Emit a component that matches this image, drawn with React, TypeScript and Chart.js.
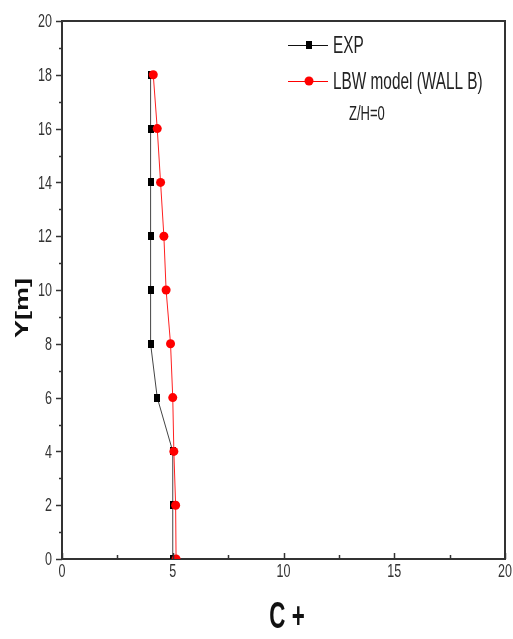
import React, { useEffect, useRef } from "react";
import { Chart, registerables } from "chart.js";

Chart.register(...registerables);

const yValues = [0, 2, 4, 6, 8, 10, 12, 14, 16, 18];
const expC = [5.0, 5.0, 5.0, 4.3, 4.0, 4.0, 4.0, 4.0, 4.0, 4.0];
const lbwC = [5.15, 5.13, 5.05, 5.0, 4.9, 4.7, 4.6, 4.45, 4.3, 4.12];
const xTickValues = [0, 5, 10, 15, 20];
const yTickValues = [0, 2, 4, 6, 8, 10, 12, 14, 16, 18, 20];
const seriesNames = ["EXP", "LBW model (WALL B)"];
const noteText = "Z/H=0";
const xTitle = "C +";
const yTitle = "Y[m]";

const FONT = "'Liberation Sans', Arial, sans-serif";
const AXIS = "#333333";
const SQ = 0.64;

function narrowText(ctx: any, text: string, x: number, y: number, sx: number, align: string) {
  ctx.save();
  ctx.translate(x, y);
  ctx.scale(sx, 1);
  ctx.textAlign = align;
  ctx.fillText(text, 0, 0);
  ctx.restore();
}

function makeSquare(): HTMLCanvasElement {
  const c = document.createElement("canvas");
  c.width = 6;
  c.height = 8;
  const g = c.getContext("2d")!;
  g.fillStyle = "#000000";
  g.fillRect(0, 0, 6, 8);
  return c;
}

const framePlugin = {
  id: "frame",
  afterDraw(chart: any) {
    const { ctx, chartArea } = chart;
    const xs = chart.scales.x;
    const ys = chart.scales.y;
    ctx.save();
    ctx.strokeStyle = AXIS;
    ctx.lineWidth = 2;
    ctx.beginPath();
    ctx.moveTo(chartArea.left, chartArea.top);
    ctx.lineTo(chartArea.right, chartArea.top);
    ctx.lineTo(chartArea.right, chartArea.bottom);
    ctx.stroke();
    ctx.lineWidth = 1.5;
    for (let v = 0; v <= 20; v += 2.5) {
      const px = Math.round(xs.getPixelForValue(v)) + 0.5;
      const major = v % 5 === 0;
      ctx.beginPath();
      ctx.moveTo(px, chartArea.bottom);
      ctx.lineTo(px, chartArea.bottom - (major ? 6 : 4));
      ctx.stroke();
    }
    for (let v = 0; v <= 20; v += 1) {
      const py = Math.round(ys.getPixelForValue(v)) + 0.5;
      const major = v % 2 === 0;
      ctx.beginPath();
      ctx.moveTo(chartArea.left, py);
      ctx.lineTo(chartArea.left - (major ? 6 : 3), py);
      ctx.stroke();
    }
    // tick labels
    ctx.fillStyle = "#333333";
    ctx.textBaseline = "middle";
    ctx.font = `19px ${FONT}`;
    for (const v of xTickValues) {
      narrowText(ctx, String(v), xs.getPixelForValue(v), chartArea.bottom + 13, 0.66, "center");
    }
    for (const v of yTickValues) {
      narrowText(ctx, String(v), chartArea.left - 10, ys.getPixelForValue(v) + 1, 0.66, "right");
    }
    // axis titles
    ctx.fillStyle = "#111111";
    ctx.font = `bold 36px ${FONT}`;
    narrowText(ctx, xTitle, 287, 618, 0.62, "center");
    ctx.save();
    ctx.translate(23, 308);
    ctx.rotate(-Math.PI / 2);
    ctx.scale(1, 0.66);
    ctx.textAlign = "center";
    ctx.font = `bold 27px ${FONT}`;
    ctx.fillText(yTitle, 0, 0);
    ctx.restore();
    // legend
    const lx0 = 288, lx1 = 328, mx = 309, tx = 333;
    const rows = [
      { y: 45, color: "#111111", style: "rect", text: seriesNames[0] },
      { y: 81, color: "#ff0000", style: "circle", text: seriesNames[1] },
    ];
    ctx.font = `24px ${FONT}`;
    for (const r of rows) {
      ctx.strokeStyle = r.color;
      ctx.lineWidth = 1;
      ctx.beginPath();
      ctx.moveTo(lx0, r.y + 0.5);
      ctx.lineTo(lx1, r.y + 0.5);
      ctx.stroke();
      ctx.fillStyle = r.color === "#ff0000" ? "#ff0000" : "#000000";
      if (r.style === "rect") {
        ctx.fillRect(mx - 3, r.y - 4, 6, 8);
      } else {
        ctx.beginPath();
        ctx.arc(mx, r.y, 4.5, 0, Math.PI * 2);
        ctx.fill();
      }
      ctx.fillStyle = "#222222";
      narrowText(ctx, r.text, tx, r.y + 1, SQ, "left");
    }
    ctx.font = `21px ${FONT}`;
    narrowText(ctx, noteText, 349, 114, 0.62, "left");
    ctx.restore();
  },
};

export default function App() {
  const ref = useRef<HTMLCanvasElement | null>(null);
  useEffect(() => {
    if (!ref.current) return;
    const square = makeSquare();
    const chart = new Chart(ref.current, {
      type: "line",
      data: {
        datasets: [
          {
            label: seriesNames[1],
            data: yValues.map((y, i) => ({ x: lbwC[i], y })),
            borderColor: "#ff2020",
            backgroundColor: "#ff0000",
            borderWidth: 1,
            pointStyle: "circle",
            pointRadius: 4.5,
            pointBorderWidth: 0,
            order: 0,
          },
          {
            label: seriesNames[0],
            data: yValues.map((y, i) => ({ x: expC[i], y })),
            borderColor: "#444444",
            backgroundColor: "#000000",
            borderWidth: 1,
            pointStyle: square,
            pointRadius: 4,
            pointBorderWidth: 0,
            order: 1,
          },
        ],
      },
      options: {
        responsive: false,
        animation: false,
        layout: { padding: { top: 21, right: 8, left: 0, bottom: 0 } },
        plugins: { legend: { display: false }, tooltip: { enabled: false } },
        scales: {
          x: {
            type: "linear",
            min: 0,
            max: 20,
            afterFit: (s: any) => { s.height = 80; },
            ticks: { display: false, stepSize: 5 },
            grid: { display: true, drawOnChartArea: false, drawTicks: false },
            border: { display: true, color: AXIS, width: 2 },
          },
          y: {
            type: "linear",
            min: 0,
            max: 20,
            afterFit: (s: any) => { s.width = 62; },
            ticks: { display: false, stepSize: 2 },
            grid: { display: true, drawOnChartArea: false, drawTicks: false },
            border: { display: true, color: AXIS, width: 2 },
          },
        },
      },
      plugins: [framePlugin],
    } as any);
    return () => chart.destroy();
  }, []);
  return (
    <canvas
      ref={ref}
      width={513}
      height={639}
      style={{ position: "absolute", left: 0, top: 0, display: "block", background: "#fff" }}
    />
  );
}
